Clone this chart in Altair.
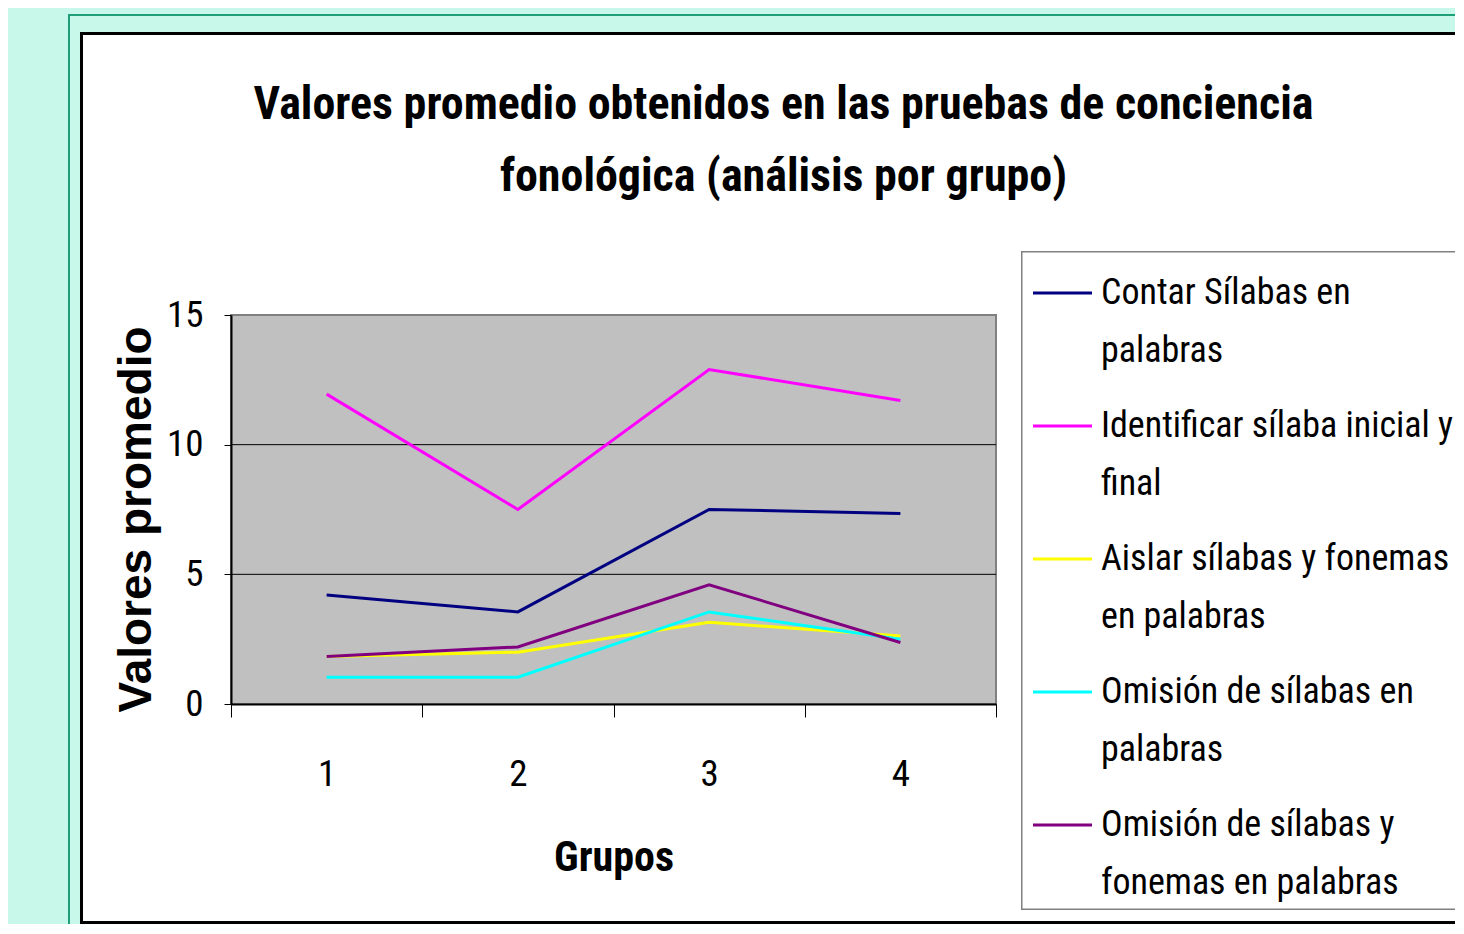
import altair as alt
import pandas as pd

# ---------------- data ----------------
GROUPS = [1, 2, 3, 4]
SERIES = [
    "Contar Sílabas en palabras",
    "Identificar sílaba inicial y final",
    "Aislar sílabas y fonemas en palabras",
    "Omisión de sílabas en palabras",
    "Omisión de sílabas y fonemas en palabras",
]
LEGEND_TEXT = [
    "Contar Sílabas en\npalabras",
    "Identificar sílaba inicial y\nfinal",
    "Aislar sílabas y fonemas\nen palabras",
    "Omisión de sílabas en\npalabras",
    "Omisión de sílabas y\nfonemas en palabras",
]
COLORS = ["#000080", "#FF00FF", "#FFFF00", "#00FFFF", "#800080"]
CONTAR = [4.2, 3.55, 7.5, 7.35]
IDENTIFICAR = [11.95, 7.5, 12.9, 11.7]
AISLAR = [1.83, 2.0, 3.15, 2.62]
OMISION_SIL = [1.03, 1.03, 3.55, 2.5]
OMISION_SIL_FON = [1.83, 2.2, 4.6, 2.37]
VALUES = [CONTAR, IDENTIFICAR, AISLAR, OMISION_SIL, OMISION_SIL_FON]
Y_TICKS = [0, 5, 10, 15]
X_TICKS = [0.5, 1, 1.5, 2, 2.5, 3, 3.5, 4, 4.5]
TITLE = ["Valores promedio obtenidos en las pruebas de conciencia",
         "fonológica (análisis por grupo)"]

rows = []
for s, vals in zip(SERIES, VALUES):
    for g, v in zip(GROUPS, vals):
        rows.append({"serie": s, "grupo": g, "valor": v})
lines_df = pd.DataFrame(rows)
legend_df = pd.DataFrame({"serie": SERIES, "texto": LEGEND_TEXT})
grid_df = pd.DataFrame({"v": Y_TICKS[1:-1]})

# ---------------- style ----------------
W, H = 765, 389
NARROW = "'Roboto Condensed', 'Liberation Sans Narrow', 'Liberation Sans', sans-serif"
MINT = "#C8F8EA"
R = 1224  # right edge of the decorative boxes (page edge)


def box(x, x2, y, y2, fill):
    return alt.Chart(alt.Data(values=[{"k": 1}])).mark_rect(fill=fill).encode(
        x=alt.value(x), x2=alt.value(x2), y=alt.value(y), y2=alt.value(y2))


decor = [
    box(-163, R, -301, -299, "#1F9E78"),      # green frame top
    box(-163, -161, -301, 609, "#1F9E78"),    # green frame left
    box(-151, R, -283, 609, "white"),         # chart area
    box(-151, R, -283, -280, "black"),        # chart border top
    box(-151, -148, -283, 609, "black"),      # chart border left
    box(-151, R, 606, 609, "black"),          # chart border bottom
]

color_scale = alt.Scale(domain=SERIES, range=COLORS)
yq = alt.Scale(domain=[0, 15], nice=False, zero=True)

plot_bg = alt.Chart(alt.Data(values=[{"k": 1}])).mark_rect(
    fill="#C0C0C0", stroke="#808080", strokeWidth=2).encode(
    x=alt.value(0), x2=alt.value(W), y=alt.value(0), y2=alt.value(H))
grid = alt.Chart(grid_df).mark_rule(color="black", strokeWidth=1).encode(
    y=alt.Y("v:Q", scale=yq, axis=None))

lines = alt.Chart(lines_df).mark_line(strokeWidth=3).encode(
    x=alt.X("grupo:Q", scale=alt.Scale(domain=[0.5, 4.5], nice=False, zero=False),
            axis=alt.Axis(values=X_TICKS,
                          labelExpr="datum.value % 1 === 0 ? '' + datum.value : ''",
                          tickOpacity={"condition": {"test": "datum.value % 1 === 0", "value": 0}, "value": 1},
                          tickSize=13, tickColor="black", tickWidth=1,
                          domainColor="black", domainWidth=2,
                          labelFont=NARROW, labelFontSize=37, labelColor="black", labelPadding=39,
                          labelOverlap=False, labelFlush=False,
                          title="Grupos", titleFont=NARROW, titleFontSize=42, titleFontWeight="bold",
                          titleColor="black", titlePadding=45, grid=False, zindex=1)),
    y=alt.Y("valor:Q", scale=yq,
            axis=alt.Axis(values=Y_TICKS, tickSize=7, tickColor="black", tickWidth=1,
                          domainColor="black", domainWidth=2,
                          labelFont=NARROW, labelFontSize=37, labelColor="black", labelPadding=21,
                          labelOverlap=False, labelFlush=False,
                          title="Valores promedio", titleFont="Liberation Sans", titleFontSize=46,
                          titleFontWeight="bold", titleColor="black",
                          titleX=-81, titleY=204, titleBaseline="alphabetic", titleAlign="center",
                          titleAngle=270, grid=False, zindex=1)),
    color=alt.Color("serie:N", scale=color_scale, legend=None),
)

leg_y = alt.Y("serie:N", scale=alt.Scale(type="point", domain=SERIES, range=[-22, 510], padding=0),
              axis=None)
legend_box = [
    box(790, R, -64, 595, "white"),
    box(790, R, -64, -62.5, "#808080"),
    box(790, 791.5, -64, 595, "#808080"),
    box(790, R, 593.5, 595, "#808080"),
]
legend_sym = alt.Chart(legend_df).mark_rule(strokeWidth=3).encode(
    x=alt.value(802), x2=alt.value(861), y=leg_y,
    color=alt.Color("serie:N", scale=color_scale, legend=None))
legend_txt = alt.Chart(legend_df).mark_text(
    align="left", baseline="middle", lineBreak="\n", lineHeight=58,
    font=NARROW, fontSize=36, color="black", limit=353, ellipsis=" ").encode(
    x=alt.value(870), y=leg_y, text="texto:N")

chart = alt.layer(
    *decor, plot_bg, grid, lines, *legend_box, legend_sym, legend_txt
).resolve_scale(y="independent").properties(
    width=W, height=H,
    background=MINT,
    padding={"left": 60, "top": 6, "right": 0, "bottom": 0},
    title=alt.TitleParams(text=TITLE, font=NARROW, fontSize=46, fontWeight="bold", color="black",
                          anchor="middle", frame="group", dx=170, offset=-187,
                          lineHeight=72, limit=1340),
)

chart.save("out.html", embed_options={"renderer": "svg", "actions": False})
